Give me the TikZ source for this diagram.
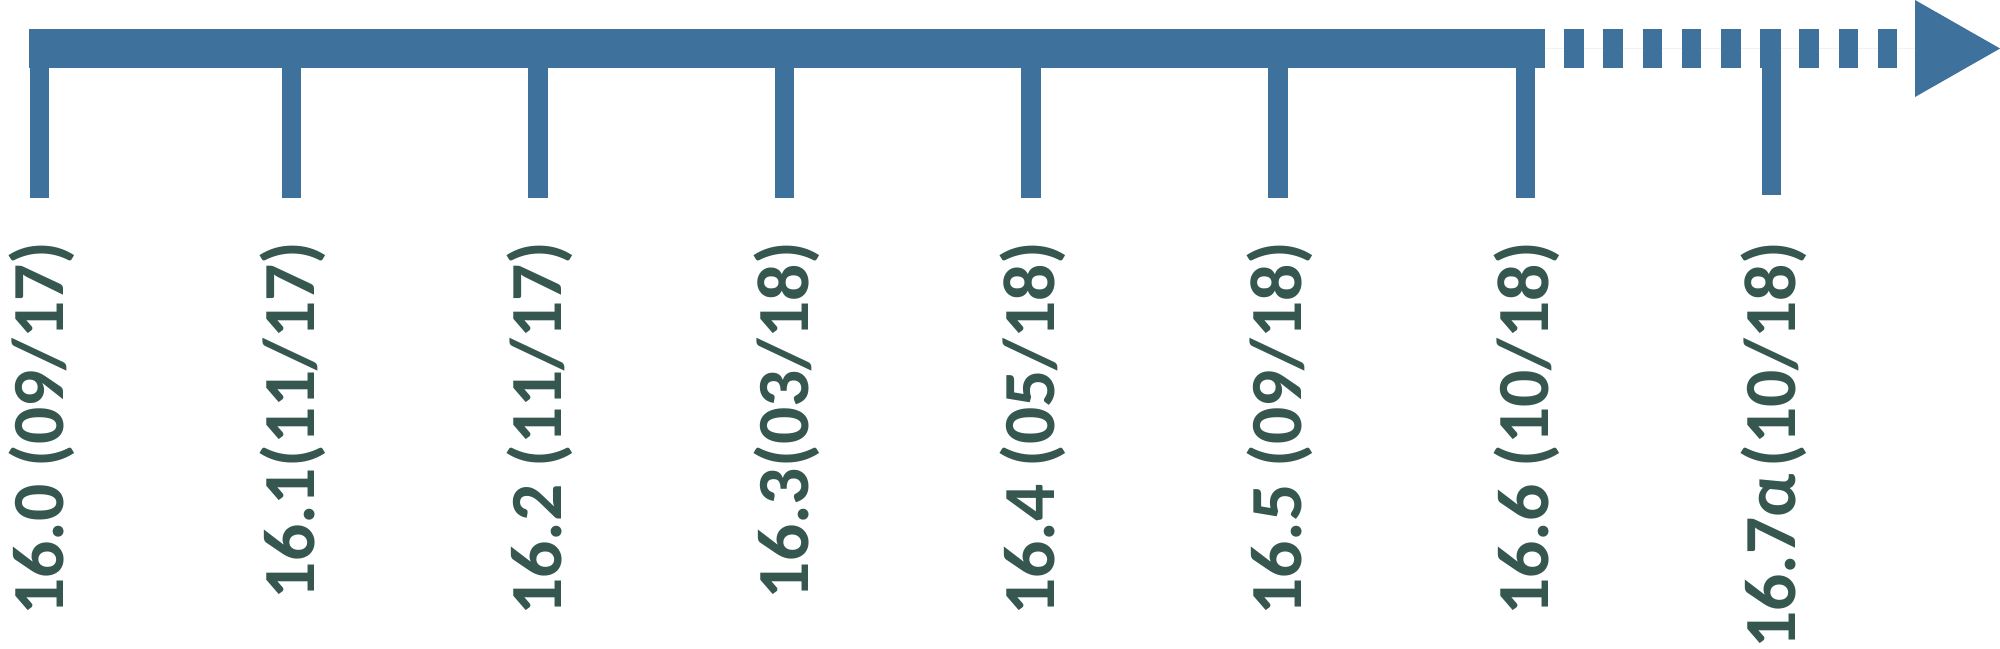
\documentclass[tikz,border=0pt]{standalone}
\usepackage{fontspec}
\setmainfont{Carlito}
\definecolor{barblue}{HTML}{3E719B}
\definecolor{labelgreen}{HTML}{36574F}
\definecolor{faintline}{HTML}{EDF3FA}
\begin{document}
\begin{tikzpicture}[x=0.5pt,y=-0.5pt,
  tickbar/.style={fill=barblue},
  verlabel/.style={rotate=90,anchor=base east,inner sep=0pt,text=labelgreen,
    font=\bfseries\fontsize{36.75}{44}\selectfont}]
\useasboundingbox (0,0) rectangle (2000,648);
% faint guide through the dashed part
\draw[faintline,line width=0.6pt] (1545,48.5) -- (1915,48.5);
% solid bar
\fill[tickbar] (29,29.3) rectangle (1545,68.3);
% dashed continuation
\foreach \k in {1,...,9}{
  \fill[tickbar] ({1525+39.2*\k},29.3) rectangle ({1525+39.2*\k+19.6},68.3);
}
% arrow head
\fill[tickbar] (1915,0) -- (2000,48.5) -- (1915,97) -- cycle;
% ticks and labels
\foreach \x/\name/\txt in {
  30/t0/{16.0 (09/17)},
  281.7/t1/{16.1(11/17)},
  528.3/t2/{16.2 (11/17)},
  775/t3/{16.3(03/18)},
  1021.3/t4/{16.4 (05/18)},
  1268.4/t5/{16.5 (09/18)},
  1515.6/t6/{16.6 (10/18)}}{
  \fill[tickbar] (\x,60) rectangle ({\x+19.4},198.3);
  \node[verlabel] (\name) at ({\x+9.7+23.3},241) {\txt};
}
\fill[tickbar] (1762,29.3) rectangle (1781.4,195);
\node[verlabel] (t7) at ({1762+9.7+23.3},241) {16.7\makebox[0.45em][l]{α} (10/18)};
\end{tikzpicture}
\end{document}
